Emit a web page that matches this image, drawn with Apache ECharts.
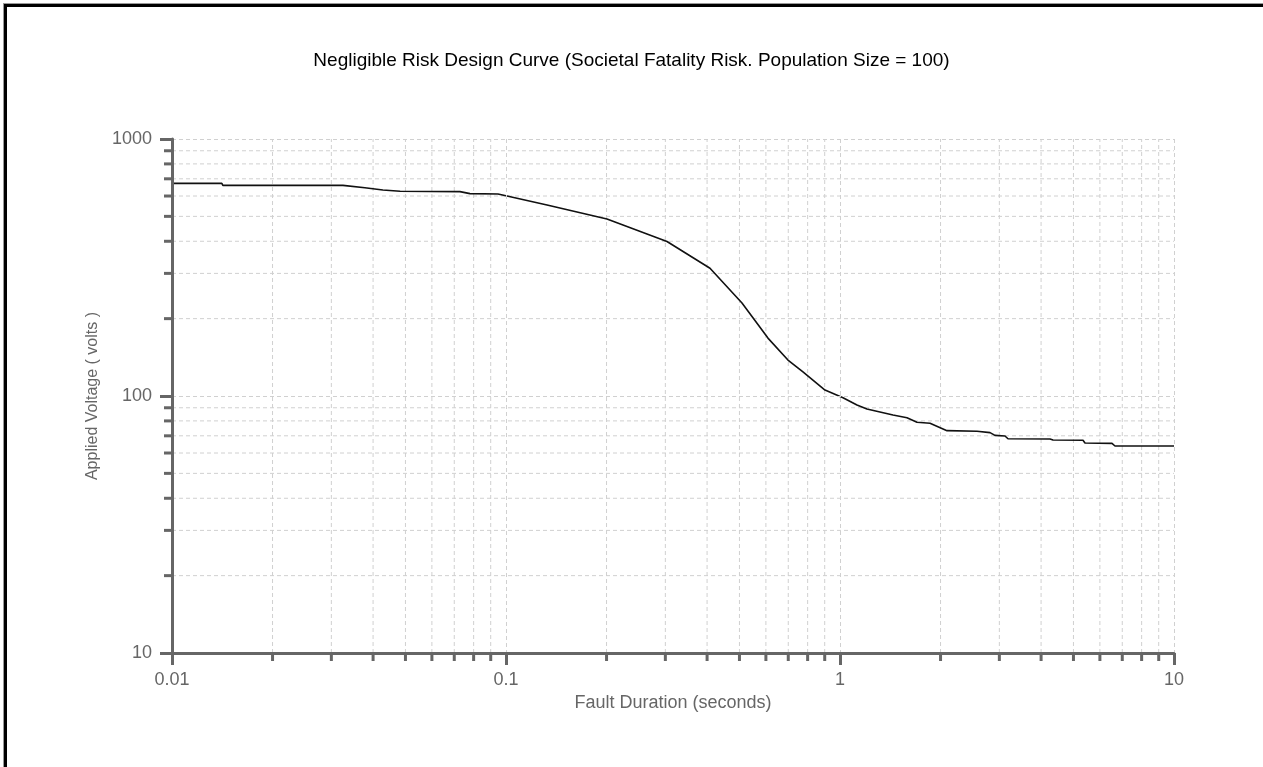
<!DOCTYPE html>
<html>
<head>
<meta charset="utf-8">
<title>Negligible Risk Design Curve</title>
<script src="https://cdn.jsdelivr.net/npm/echarts@6/dist/echarts.min.js"></script>
<style>
  html, body { margin: 0; padding: 0; background: #fff; overflow: hidden; }
  #chart { position: absolute; left: 0; top: 0; width: 1263px; height: 767px; }
  .edge { position: absolute; right: -20px; bottom: -20px; pointer-events: none; }
  #edgeGray { left: 3px; top: 3px; border-left: 1px solid #999; border-top: 1px solid #999; }
  #edgeBlack { left: 4px; top: 4px; border-left: 3px solid #000; border-top: 3px solid #000; }
</style>
</head>
<body>
<div id="chart"></div>
<div class="edge" id="edgeGray"></div>
<div class="edge" id="edgeBlack"></div>
<script>
  // curve (fault duration in s, applied voltage in V)
  const faultDuration = [0.01, 0.0141, 0.0142, 0.0325, 0.0325, 0.0378, 0.0428, 0.0482, 0.0728, 0.078,
    0.0946, 0.1007, 0.1327, 0.2006, 0.3034, 0.4081, 0.5088, 0.6085, 0.6985, 0.7746,
    0.9017, 1.021, 1.124, 1.204, 1.441, 1.587, 1.700, 1.860, 2.091, 2.572,
    2.813, 2.911, 3.119, 3.184, 4.254, 4.343, 5.340, 5.414, 6.522, 6.658, 10]
  const appliedVoltage = [672, 672, 660, 660, 652, 646, 633, 626, 624, 613,
    611, 600, 554, 488, 399, 314, 230, 168, 138, 124,
    105.5, 98.5, 92.3, 89.0, 84.3, 82.3, 79.0, 78.3, 73.3, 72.9,
    72.0, 70.3, 69.9, 68.2, 68.0, 67.4, 67.3, 65.6, 65.4, 63.9, 63.9]

  const xMajorTicks = [0.01, 0.1, 1, 10]
  const xTickLabels = ['0.01', '0.1', '1', '10']
  const yMajorTicks = [10, 100, 1000]
  const yTickLabels = ['10', '100', '1000']
  const xMinorTicks = [0.02, 0.03, 0.04, 0.05, 0.06, 0.07, 0.08, 0.09,
    0.2, 0.3, 0.4, 0.5, 0.6, 0.7, 0.8, 0.9,
    2, 3, 4, 5, 6, 7, 8, 9]
  const yMinorTicks = [20, 30, 40, 50, 60, 70, 80, 90,
    200, 300, 400, 500, 600, 700, 800, 900]

  const font = 'Liberation Sans, Arial, sans-serif'
  const axisGray = '#666'
  const gridGray = '#d0d0d0'

  function labelFor(ticks, labels) {
    return function (v) {
      for (let i = 0; i < ticks.length; i++) {
        if (Math.abs(v - ticks[i]) / ticks[i] < 1e-6) return labels[i]
      }
      return ''
    }
  }

  // minor grid lines + minor ticks for the x axis
  function renderXMinor(params, api) {
    const v = api.value(0)
    const b = api.coord([v, yMajorTicks[0]])
    const t = api.coord([v, yMajorTicks[yMajorTicks.length - 1]])
    return {
      type: 'group',
      children: [
        { type: 'line', shape: { x1: b[0], y1: b[1], x2: t[0], y2: t[1] },
          style: { stroke: gridGray, lineWidth: 1, lineDash: [4, 3] } },
        { type: 'line', shape: { x1: b[0], y1: b[1], x2: b[0], y2: b[1] + 8 },
          style: { stroke: axisGray, lineWidth: 3 } }
      ]
    }
  }

  function renderYMinor(params, api) {
    const v = api.value(1)
    const l = api.coord([xMajorTicks[0], v])
    const r = api.coord([xMajorTicks[xMajorTicks.length - 1], v])
    return {
      type: 'group',
      children: [
        { type: 'line', shape: { x1: l[0], y1: l[1], x2: r[0], y2: r[1] },
          style: { stroke: gridGray, lineWidth: 1, lineDash: [4, 3] } },
        { type: 'line', shape: { x1: l[0] - 8, y1: l[1], x2: l[0], y2: l[1] },
          style: { stroke: axisGray, lineWidth: 3 } }
      ]
    }
  }

  const chart = echarts.init(document.getElementById('chart'))
  chart.setOption({
    animation: false,
    backgroundColor: 'transparent',
    title: {
      text: 'Negligible Risk Design Curve (Societal Fatality Risk. Population Size = 100)',
      left: 'center',
      top: 46,
      textStyle: { color: '#000', fontWeight: 'normal', fontSize: 19, fontFamily: font }
    },
    grid: { left: 172, right: 89, top: 139, bottom: 114 },
    xAxis: {
      type: 'log',
      logBase: 10,
      min: 0.01,
      max: 10,
      interval: 1,
      z: 5,
      name: 'Fault Duration (seconds)',
      nameLocation: 'middle',
      nameGap: 40,
      nameTextStyle: { color: axisGray, fontSize: 18, fontFamily: font },
      axisLine: { show: true, lineStyle: { color: axisGray, width: 3 } },
      axisTick: { show: true, length: 12, lineStyle: { color: axisGray, width: 3 } },
      axisLabel: { color: axisGray, fontSize: 18, fontFamily: font, margin: 18,
        formatter: labelFor(xMajorTicks, xTickLabels) },
      splitLine: { show: true, lineStyle: { color: gridGray, width: 1, type: [4, 3] } }
    },
    yAxis: {
      type: 'log',
      logBase: 10,
      min: 10,
      max: 1000,
      interval: 1,
      z: 5,
      name: 'Applied Voltage ( volts )',
      nameLocation: 'middle',
      nameGap: 70,
      nameTextStyle: { color: axisGray, fontSize: 16, fontFamily: font },
      axisLine: { show: true, lineStyle: { color: axisGray, width: 3 } },
      axisTick: { show: true, length: 12, lineStyle: { color: axisGray, width: 3 } },
      axisLabel: { color: axisGray, fontSize: 18, fontFamily: font, margin: 20,
        formatter: labelFor(yMajorTicks, yTickLabels) },
      splitLine: { show: true, lineStyle: { color: gridGray, width: 1, type: [4, 3] } }
    },
    series: [
      {
        type: 'custom',
        z: 1,
        clip: false,
        silent: true,
        renderItem: renderXMinor,
        encode: { x: 0, y: 1 },
        data: xMinorTicks.map(v => [v, yMajorTicks[0]])
      },
      {
        type: 'custom',
        z: 1,
        clip: false,
        silent: true,
        renderItem: renderYMinor,
        encode: { x: 0, y: 1 },
        data: yMinorTicks.map(v => [xMajorTicks[0], v])
      },
      {
        name: 'Negligible risk',
        type: 'line',
        z: 4,
        showSymbol: false,
        lineStyle: { color: '#111', width: 1.6 },
        data: faultDuration.map((d, i) => [d, appliedVoltage[i]])
      }
    ]
  })
</script>
</body>
</html>
